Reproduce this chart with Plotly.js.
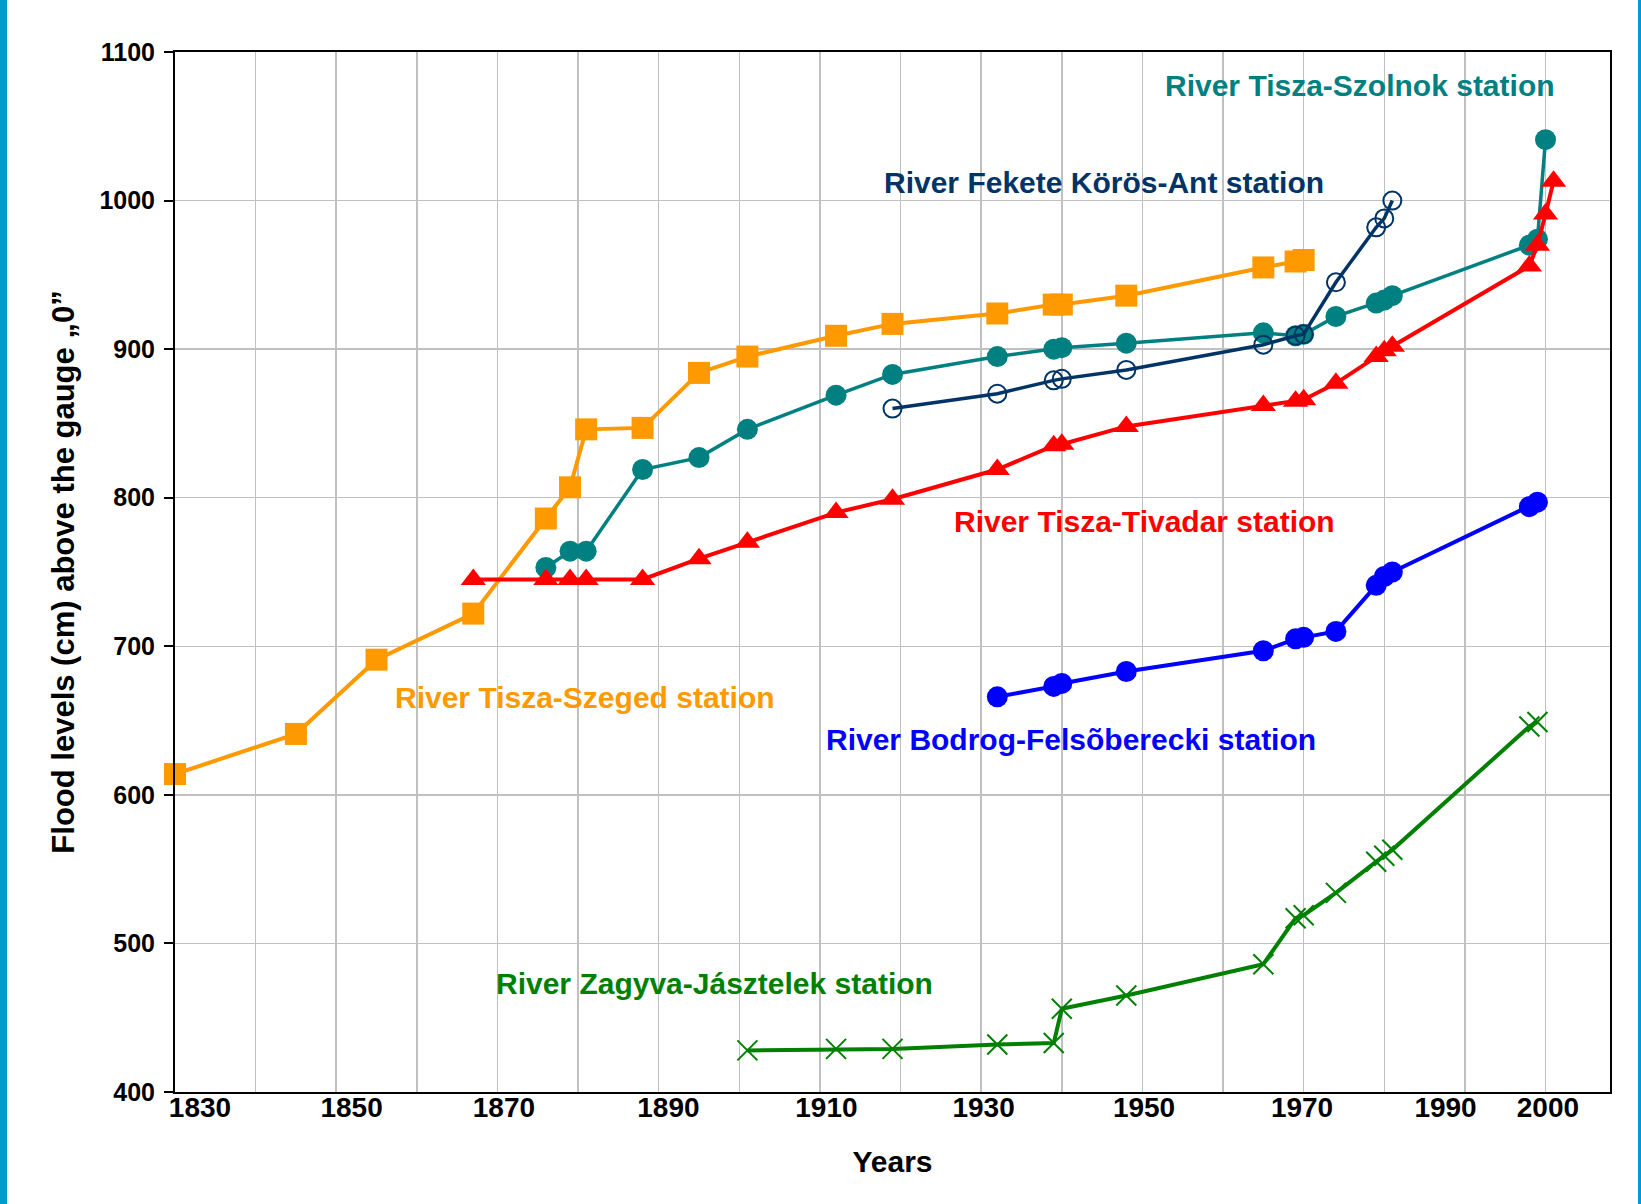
<!DOCTYPE html>
<html>
<head>
<meta charset="utf-8">
<script src="https://cdn.plot.ly/plotly-3.0.1.min.js"></script>
<style>
  html, body { margin: 0; padding: 0; background: #ffffff; }
  #chart { width: 1641px; height: 1204px; }
</style>
</head>
<body>
<div id="chart"></div>
<script>
// ---------------- DATA ----------------
const szegedYears  = [1830, 1845, 1855, 1867, 1876, 1879, 1881, 1888, 1895, 1901, 1912, 1919, 1932, 1939, 1940, 1948, 1965, 1969, 1970];
const szegedLevels = [614, 641, 691, 722, 786, 807, 846, 847, 884, 895, 909, 917, 924, 930, 930, 936, 955, 959, 960];

const szolnokYears  = [1876, 1879, 1881, 1888, 1895, 1901, 1912, 1919, 1932, 1939, 1940, 1948, 1965, 1969, 1970, 1974, 1979, 1980, 1981, 1998, 1999, 2000];
const szolnokLevels = [753, 764, 764, 819, 827, 846, 869, 883, 895, 900, 901, 904, 911, 909, 910, 922, 931, 933, 936, 970, 974, 1041];

const korosYears  = [1919, 1932, 1939, 1940, 1948, 1965, 1969, 1970, 1974, 1979, 1980, 1981];
const korosLevels = [860, 870, 879, 880, 886, 903, 909, 910, 945, 982, 988, 1000];

const tivadarYears  = [1867, 1876, 1879, 1881, 1888, 1895, 1901, 1912, 1919, 1932, 1939, 1940, 1948, 1965, 1969, 1970, 1974, 1979, 1980, 1981, 1998, 1999, 2000, 2001];
const tivadarLevels = [745, 745, 745, 745, 745, 759, 770, 790, 799, 819, 835, 836, 848, 862, 865, 866, 877, 895, 899, 902, 956, 970, 991, 1013];

const bodrogYears  = [1932, 1939, 1940, 1948, 1965, 1969, 1970, 1974, 1979, 1980, 1981, 1998, 1999];
const bodrogLevels = [666, 673, 675, 683, 697, 705, 706, 710, 741, 747, 750, 794, 797];

const zagyvaYears  = [1901, 1912, 1919, 1932, 1939, 1940, 1948, 1965, 1969, 1970, 1974, 1979, 1980, 1981, 1998, 1999];
const zagyvaLevels = [428, 429, 429, 432, 433, 456, 465, 486, 517, 519, 534, 555, 559, 563, 646, 649];

const stationNames = [
  'River Tisza-Szeged station',
  'River Tisza-Szolnok station',
  'River Fekete Körös-Ant station',
  'River Tisza-Tivadar station',
  'River Bodrog-Felsõberecki station',
  'River Zagyva-Jásztelek station'
];

const xTickLabels = ['1830', '1850', '1870', '1890', '1910', '1930', '1950', '1970', '1990', '2000'];
const xTickPositions = [1833.1, 1851.9, 1870.8, 1891.2, 1910.8, 1930.3, 1950.2, 1969.8, 1987.6, 2000.3];

const xTitle = 'Years';
const yTitle = 'Flood levels (cm) above the gauge „0”';

// ---------------- STYLE ----------------
const FONT = 'Liberation Sans, Arial, Helvetica, sans-serif';
const colors = ['#FF9900', '#008080', '#003366', '#FF0000', '#0000FF', '#008000'];
// label placement (data coordinates) for each station name
const labelX = [1880.9, 1977.0, 1945.2, 1950.2, 1941.1, 1896.9];
const labelY = [665.5, 1077.5, 1011.9, 783.7, 637.2, 473.2];

const X_RANGE = [1830, 2008];
const Y_RANGE = [400, 1100];
const W = 1641, H = 1204;
const M = {l: 175, r: 31, t: 52, b: 112};
const plotW = W - M.l - M.r, plotH = H - M.t - M.b;
const pxX = px => (px - M.l) / plotW;
const pxY = py => (H - M.b - py) / plotH;

function lineTrace(x, y, name, color, marker, width) {
  return {
    type: 'scatter', mode: 'lines+markers', x: x, y: y, name: name,
    line: {color: color, width: width},
    marker: marker,
    cliponaxis: false,
    hoverinfo: 'x+y+name'
  };
}

const traces = [
  lineTrace(szegedYears, szegedLevels, stationNames[0], colors[0],
    {symbol: 'square', size: 22, color: colors[0]}, 4),
  lineTrace(szolnokYears, szolnokLevels, stationNames[1], colors[1],
    {symbol: 'circle', size: 21, color: colors[1]}, 3.5),
  lineTrace(korosYears, korosLevels, stationNames[2], colors[2],
    {symbol: 'circle-open', size: 18, color: colors[2], line: {width: 2, color: colors[2]}}, 3.5),
  lineTrace(tivadarYears, tivadarLevels, stationNames[3], colors[3],
    {symbol: 'triangle-up', size: 22, color: colors[3]}, 4),
  lineTrace(bodrogYears, bodrogLevels, stationNames[4], colors[4],
    {symbol: 'circle', size: 21, color: colors[4]}, 4),
  lineTrace(zagyvaYears, zagyvaLevels, stationNames[5], colors[5],
    {symbol: 'x-thin-open', size: 20, color: colors[5], line: {width: 2, color: colors[5]}}, 4),
  // empty helper trace so the label axis (xaxis2) is laid out
  {type: 'scatter', x: [], y: [], xaxis: 'x2', yaxis: 'y', showlegend: false, hoverinfo: 'skip'}
];

const annotations = stationNames.map((name, i) => ({
  x: labelX[i], y: labelY[i], xref: 'x', yref: 'y',
  text: name, showarrow: false, xanchor: 'center', yanchor: 'middle',
  font: {family: FONT, size: 30, color: colors[i], weight: 'bold'}
}));

const shapes = [
  {type: 'rect', xref: 'paper', yref: 'paper', x0: pxX(0), x1: pxX(7), y0: pxY(H), y1: pxY(0),
   fillcolor: '#0099CE', line: {width: 0}, layer: 'above'},
  {type: 'rect', xref: 'paper', yref: 'paper', x0: pxX(1638), x1: pxX(1641), y0: pxY(H), y1: pxY(0),
   fillcolor: '#0099CE', line: {width: 0}, layer: 'above'}
];

const layout = {
  width: W, height: H,
  margin: M,
  paper_bgcolor: '#ffffff', plot_bgcolor: '#ffffff',
  showlegend: false,
  font: {family: FONT, color: '#000000'},
  xaxis: {
    range: X_RANGE, tickmode: 'linear', tick0: 1830, dtick: 10,
    showgrid: true, gridcolor: '#C0C0C0', gridwidth: 1.5,
    showticklabels: false, ticks: '',
    showline: true, linecolor: '#000000', linewidth: 2, mirror: true,
    zeroline: false, fixedrange: true
  },
  xaxis2: {
    overlaying: 'x', anchor: 'y', side: 'bottom',
    range: X_RANGE, tickmode: 'array', tickvals: xTickPositions, ticktext: xTickLabels,
    showgrid: false, showline: false, zeroline: false, ticks: '',
    tickfont: {family: FONT, size: 28, color: '#000000', weight: 'bold'},
    ticklabelstandoff: -4,
    title: {text: xTitle, font: {family: FONT, size: 30, color: '#000000', weight: 'bold'}, standoff: 28},
    automargin: false
  },
  yaxis: {
    range: Y_RANGE, tickmode: 'linear', tick0: 400, dtick: 100,
    showgrid: true, gridcolor: '#C0C0C0', gridwidth: 1.5,
    ticks: 'outside', ticklen: 9, tickwidth: 2, tickcolor: '#000000',
    tickfont: {family: FONT, size: 25, color: '#000000', weight: 'bold'},
    ticklabelstandoff: 4,
    showline: true, linecolor: '#000000', linewidth: 2, mirror: true,
    zeroline: false,
    title: {text: yTitle, font: {family: FONT, size: 31, color: '#000000', weight: 'bold'}, standoff: 16},
    automargin: false
  },
  annotations: annotations,
  shapes: shapes
};

Plotly.newPlot('chart', traces, layout, {displayModeBar: false, staticPlot: true});
</script>
</body>
</html>
